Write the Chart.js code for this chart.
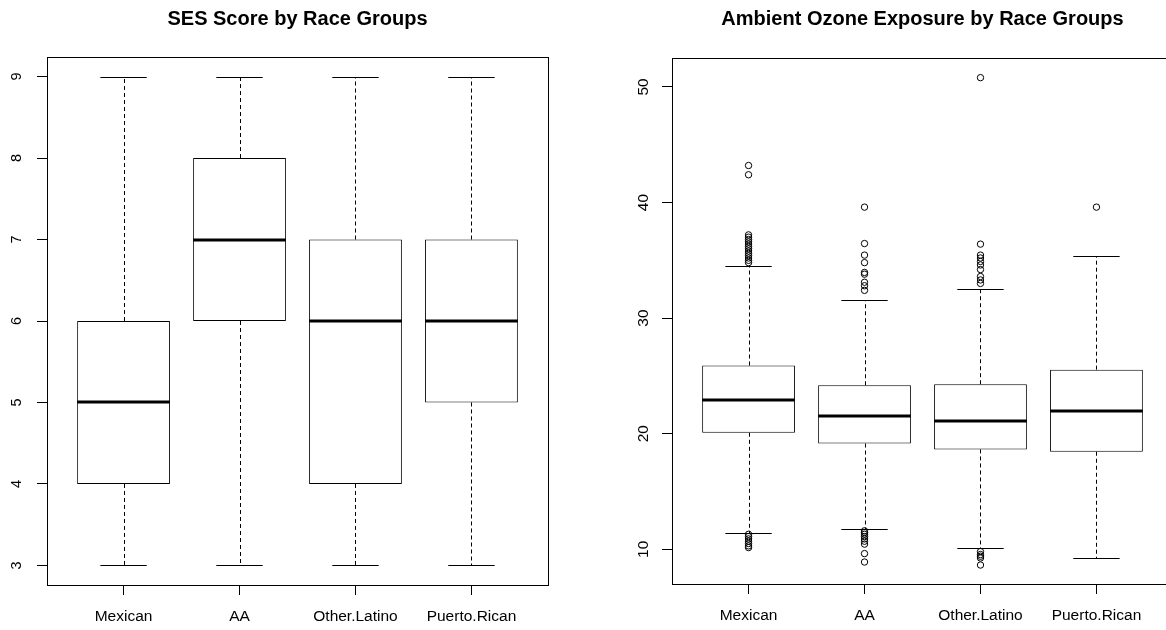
<!DOCTYPE html>
<html>
<head>
<meta charset="utf-8">
<script src="https://cdn.jsdelivr.net/npm/chart.js@4"></script>
<style>
  html, body { margin: 0; padding: 0; background: #fff; overflow: hidden; width: 1166px; height: 630px; }
  canvas { position: absolute; top: 0; }
  #ses { left: 0; }
  #ozone { left: 620px; }
</style>
</head>
<body>
<canvas id="ses" width="595" height="630"></canvas>
<canvas id="ozone" width="604" height="630"></canvas>
<script>
// categories
const groups = ['Mexican', 'AA', 'Other.Latino', 'Puerto.Rican'];

// SES score five-number summaries
const sesMin = [3, 3, 3, 3];
const sesQ1 = [4, 6, 4, 5];
const sesMedian = [5, 7, 6, 6];
const sesQ3 = [6, 8, 7, 7];
const sesMax = [9, 9, 9, 9];
const sesTicks = [3, 4, 5, 6, 7, 8, 9];

// ambient ozone five-number summaries + outliers
const ozoneMin = [11.44, 11.73, 10.11, 9.28];
const ozoneQ1 = [20.08, 19.15, 18.64, 18.44];
const ozoneMedian = [22.95, 21.51, 21.14, 21.94];
const ozoneQ3 = [25.9, 24.19, 24.28, 25.54];
const ozoneMax = [34.55, 31.53, 32.5, 35.33];
const ozoneOutliers = [
  [34.8, 35.0, 35.2, 35.4, 35.6, 35.8, 36.0, 36.2, 36.4, 36.6, 36.8, 37.0, 37.2, 42.4, 43.2,
   11.3, 11.1, 10.9, 10.7, 10.5, 10.3, 10.15],
  [39.6, 36.45, 35.45, 34.8, 33.95, 33.8, 33.1, 32.8, 32.4,
   11.6, 11.45, 11.3, 11.1, 10.9, 10.7, 10.45, 9.63, 8.9],
  [50.8, 36.4, 35.45, 35.2, 34.9, 34.6, 34.2, 33.6, 33.3, 33.0,
   9.8, 9.55, 9.4, 9.25, 8.64],
  [39.6]
];
const ozoneTicks = [10, 20, 30, 40, 50];

const FONT = 'Liberation Sans, Arial, Helvetica, sans-serif';

// R-style whiskers, caps, medians and plot frame
const rBox = {
  id: 'rbox',
  beforeDatasetsDraw(chart, args, o) {
    const { ctx, scales: { x, y } } = chart;
    ctx.save();
    ctx.strokeStyle = '#000';
    ctx.lineWidth = 1;
    o.med.forEach((m, i) => {
      const cx = Math.round(x.getPixelForValue(i + 1)) + 0.5;
      const l = x.getPixelForValue(i + 1 - 0.2);
      const r = x.getPixelForValue(i + 1 + 0.2);
      const yMax = Math.round(y.getPixelForValue(o.max[i])) + 0.5;
      const yMin = Math.round(y.getPixelForValue(o.min[i])) + 0.5;
      ctx.setLineDash([4, 3]);
      ctx.beginPath();
      ctx.moveTo(cx, y.getPixelForValue(o.q3[i]));
      ctx.lineTo(cx, yMax);
      ctx.moveTo(cx, y.getPixelForValue(o.q1[i]));
      ctx.lineTo(cx, yMin);
      ctx.stroke();
      ctx.setLineDash([]);
      ctx.beginPath();
      ctx.moveTo(l, yMax); ctx.lineTo(r, yMax);
      ctx.moveTo(l, yMin); ctx.lineTo(r, yMin);
      ctx.stroke();
    });
    ctx.restore();
  },
  afterDatasetsDraw(chart, args, o) {
    const { ctx, chartArea: a, scales: { x, y } } = chart;
    ctx.save();
    ctx.strokeStyle = '#000';
    ctx.lineWidth = 3;
    o.med.forEach((m, i) => {
      const py = Math.round(y.getPixelForValue(m));
      ctx.beginPath();
      ctx.moveTo(x.getPixelForValue(i + 1 - 0.4), py);
      ctx.lineTo(x.getPixelForValue(i + 1 + 0.4), py);
      ctx.stroke();
    });
    ctx.lineWidth = 1;
    ctx.strokeRect(Math.round(a.left) + 0.5, Math.round(a.top) + 0.5,
      Math.round(a.right - a.left), Math.round(a.bottom - a.top));
    ctx.restore();
  }
};

function boxChart(id, title, stats, yMin, yMax, yTicks, outliers, geo) {
  const boxes = groups.map((g, i) => ({ x: i + 1, y: [stats.q1[i], stats.q3[i]] }));
  const pts = [];
  outliers.forEach((arr, i) => arr.forEach(v => pts.push({ x: i + 1, y: v })));

  return new Chart(document.getElementById(id), {
    type: 'bar',
    data: {
      datasets: [
        {
          type: 'scatter',
          data: pts,
          order: 0,
          pointRadius: 3.2,
          pointBackgroundColor: 'rgba(0,0,0,0)',
          pointBorderColor: '#000',
          pointBorderWidth: 1
        },
        {
          type: 'bar',
          data: boxes,
          order: 1,
          backgroundColor: '#fff',
          borderColor: '#000',
          borderWidth: 1,
          borderSkipped: false,
          categoryPercentage: 0.8,
          barPercentage: 1
        }
      ]
    },
    options: {
      responsive: false,
      animation: false,
      devicePixelRatio: 1,
      layout: { padding: { left: 0, right: geo.padRight, top: 0, bottom: 0 } },
      plugins: {
        legend: { display: false },
        tooltip: { enabled: false },
        title: {
          display: true,
          fullSize: false,
          text: title,
          color: '#000',
          font: { family: FONT, size: 20, weight: 'bold' },
          padding: { top: 7, bottom: geo.titleGap }
        },
        rbox: stats
      },
      scales: {
        x: {
          type: 'linear',
          min: 0.34,
          max: 4.66,
          offset: false,
          afterBuildTicks: s => { s.ticks = groups.map((g, i) => ({ value: i + 1 })); },
          afterFit: s => { s.height = geo.xHeight; },
          grid: { display: true, offset: false, drawOnChartArea: false, drawTicks: true, tickLength: 10, color: '#000' },
          border: { display: false },
          ticks: {
            autoSkip: false,
            maxRotation: 0,
            padding: 12,
            color: '#000',
            font: { family: FONT, size: 15.5 },
            callback: v => groups[Math.round(v) - 1]
          }
        },
        y: {
          type: 'linear',
          min: yMin,
          max: yMax,
          afterBuildTicks: s => { s.ticks = yTicks.map(v => ({ value: v })); },
          afterFit: s => { s.width = geo.yWidth; },
          grid: { display: true, drawOnChartArea: false, drawTicks: true, tickLength: 10, color: '#000' },
          border: { display: false },
          ticks: {
            minRotation: 90,
            maxRotation: 90,
            crossAlign: 'center',
            padding: geo.yPad,
            color: '#000',
            font: { family: FONT, size: geo.ySize }
          }
        }
      }
    },
    plugins: [rBox]
  });
}

boxChart('ses', 'SES Score by Race Groups',
  { min: sesMin, q1: sesQ1, med: sesMedian, q3: sesQ3, max: sesMax },
  2.76, 9.24, sesTicks, [[], [], [], []],
  { padRight: 47, yWidth: 47, xHeight: 45, titleGap: 26, yPad: 16, ySize: 14.5 });

boxChart('ozone', 'Ambient Ozone Exposure by Race Groups',
  { min: ozoneMin, q1: ozoneQ1, med: ozoneMedian, q3: ozoneQ3, max: ozoneMax },
  7.0, 52.5, ozoneTicks, ozoneOutliers,
  { padRight: 51, yWidth: 52, xHeight: 46, titleGap: 27, yPad: 10, ySize: 15.5 });
</script>
</body>
</html>
